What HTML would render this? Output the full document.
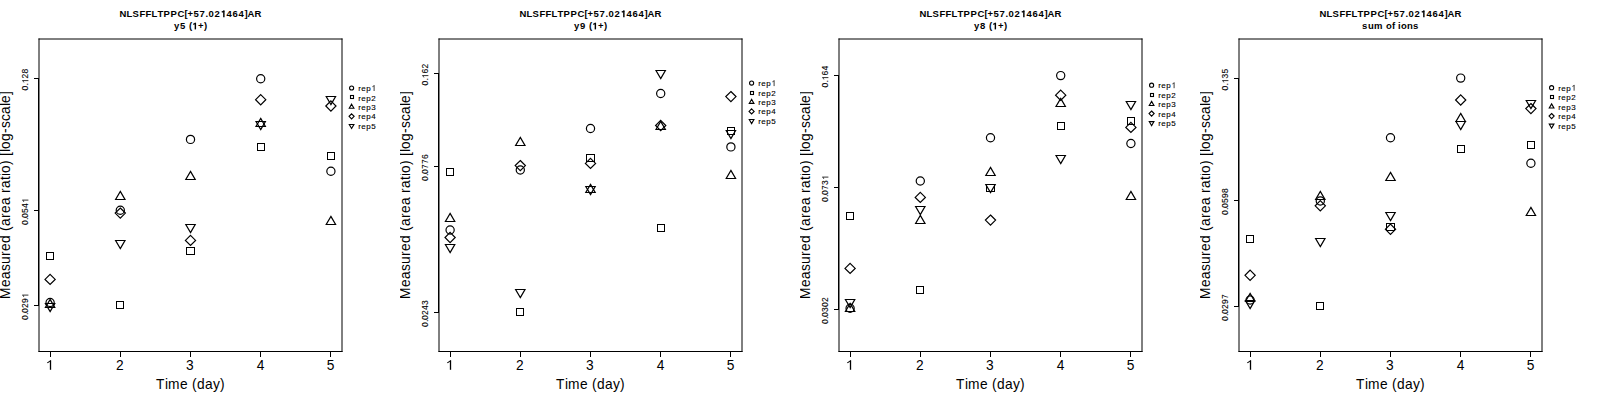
<!DOCTYPE html>
<html><head><meta charset="utf-8"><style>
html,body{margin:0;padding:0;background:#fff;}
svg{display:block;}
text{font-family:"Liberation Sans",sans-serif;fill:#000;}
.t{font-size:9.5px;font-weight:bold;}
.yt{font-size:8.5px;stroke:#000;stroke-width:0.1px;}
.xt{font-size:13.75px;text-anchor:middle;}
.xl{font-size:13.75px;}
.yl{font-size:13.75px;}
.lg{font-size:8px;stroke:#000;stroke-width:0.12px;}
.box{fill:none;stroke:#000;stroke-width:1;stroke-linecap:square;}
.ax{fill:none;stroke:#000;stroke-width:1;}
.pt circle,.pt rect,.pt path{fill:none;stroke:#000;}
</style></head><body>
<svg width="1600" height="400" viewBox="0 0 1600 400">
<defs><clipPath id="pc"><rect x="0" y="0" width="400" height="400"/></clipPath></defs>
<rect width="1600" height="400" fill="#fff"/>
<g transform="translate(0,0)" clip-path="url(#pc)">
<text class="t" x="119.50 126.50 132.50 139.50 145.50 151.50 157.50 163.50 170.50 177.50 184.50 187.50 193.50 199.50 205.50 208.50 214.50 220.50 226.50 232.50 238.50 244.50 247.50 254.50" y="17.2">NLSFFLTPPC[+57.02 464]AR</text><path d="M223.86,17.20V10.55" stroke="#000" stroke-width="1.43" fill="none"/><path d="M224.29,10.98L221.77,12.17" stroke="#000" stroke-width="1.21" fill="none"/>
<text class="t" x="174.00 180.00 186.00 189.00 192.00 198.00 204.00" y="29.4">y5 ( +)</text><path d="M195.36,29.40V22.75" stroke="#000" stroke-width="1.43" fill="none"/><path d="M195.79,23.18L193.27,24.37" stroke="#000" stroke-width="1.21" fill="none"/>
<path class="box" d="M39,39H342M342,39V351.5M342,351.5H39M39,351.5V39"/>
<path class="ax" d="M38.5,78.5V305.5"/>
<path class="ax" d="M34,78.5H39"/>
<g transform="translate(28.4,79.4) rotate(-90)"><text class="yt" x="-11.00 -6.00 -4.00 1.00 6.00" y="0">0. 28</text><path d="M-1.20,0.00V-5.95" stroke="#000" stroke-width="0.81" fill="none"/><path d="M-0.96,-5.71L-3.07,-4.50" stroke="#000" stroke-width="0.69" fill="none"/></g>
<path class="ax" d="M34,210.5H39"/>
<g transform="translate(28.4,211.4) rotate(-90)"><text class="yt" x="-13.50 -8.50 -6.50 -1.50 3.50 8.50" y="0">0.054 </text><path d="M11.30,0.00V-5.95" stroke="#000" stroke-width="0.81" fill="none"/><path d="M11.54,-5.71L9.43,-4.50" stroke="#000" stroke-width="0.69" fill="none"/></g>
<path class="ax" d="M34,305.5H39"/>
<g transform="translate(28.4,306.4) rotate(-90)"><text class="yt" x="-13.50 -8.50 -6.50 -1.50 3.50 8.50" y="0">0.029 </text><path d="M11.30,0.00V-5.95" stroke="#000" stroke-width="0.81" fill="none"/><path d="M11.54,-5.71L9.43,-4.50" stroke="#000" stroke-width="0.69" fill="none"/></g>
<path class="ax" d="M50.5,351.5H330.5"/>
<path class="ax" d="M50.5,351.5V357"/>
<path d="M50.5,369.8V360.4" stroke="#000" stroke-width="1.3" fill="none"/><path d="M50.9,360.6L47.3,362.9" stroke="#000" stroke-width="1.1" fill="none"/>
<path class="ax" d="M120.5,351.5V357"/>
<text class="xt" x="119.9" y="369.8">2</text>
<path class="ax" d="M190.5,351.5V357"/>
<text class="xt" x="189.9" y="369.8">3</text>
<path class="ax" d="M260.5,351.5V357"/>
<text class="xt" x="260.5" y="369.8">4</text>
<path class="ax" d="M330.5,351.5V357"/>
<text class="xt" x="330.5" y="369.8">5</text>
<text class="xl" x="156.00 165.00 168.00 180.00 188.00 192.00 197.00 205.00 213.00 220.00" y="389">Time (day)</text>
<g transform="translate(10.1,195) rotate(-90)"><text class="yl" x="-104.00 -92.00 -84.00 -76.00 -69.00 -61.00 -56.00 -48.00 -40.00 -36.00 -31.00 -23.00 -18.00 -10.00 -2.00 2.00 7.00 15.00 19.00 22.00 30.00 35.00 39.00 43.00 46.00 54.00 62.00 67.00 74.00 81.00 89.00 92.00 100.00" y="0">Measured (area ratio) [log-scale]</text></g>
<g class="pt">
<circle cx="50.10" cy="302.50" r="4.10" stroke-width="1.2"/>
<rect x="46.5" y="252.5" width="7.0" height="7.0" stroke-width="1.0"/>
<path d="M50.10,299.40L54.78,307.50L45.42,307.50Z" stroke-width="1.2"/>
<path d="M50.10,274.30L55.20,279.40L50.10,284.50L45.00,279.40Z" stroke-width="1.2"/>
<path d="M50.10,311.60L54.78,303.50L45.42,303.50Z" stroke-width="1.2"/>
<circle cx="120.30" cy="210.30" r="4.10" stroke-width="1.2"/>
<rect x="116.5" y="301.5" width="7.0" height="7.0" stroke-width="1.0"/>
<path d="M120.30,191.40L124.98,199.50L115.62,199.50Z" stroke-width="1.2"/>
<path d="M120.30,208.00L125.40,213.10L120.30,218.20L115.20,213.10Z" stroke-width="1.2"/>
<path d="M120.30,248.60L124.98,240.50L115.62,240.50Z" stroke-width="1.2"/>
<circle cx="190.50" cy="139.40" r="4.10" stroke-width="1.2"/>
<rect x="186.5" y="247.5" width="8.0" height="7.0" stroke-width="1.0"/>
<path d="M190.50,171.40L195.18,179.50L185.82,179.50Z" stroke-width="1.2"/>
<path d="M190.50,235.30L195.60,240.40L190.50,245.50L185.40,240.40Z" stroke-width="1.2"/>
<path d="M190.50,232.60L195.18,224.50L185.82,224.50Z" stroke-width="1.2"/>
<circle cx="260.70" cy="78.70" r="4.10" stroke-width="1.2"/>
<rect x="257.5" y="143.5" width="7.0" height="7.0" stroke-width="1.0"/>
<path d="M260.70,118.40L265.38,126.50L256.02,126.50Z" stroke-width="1.2"/>
<path d="M260.70,94.60L265.80,99.70L260.70,104.80L255.60,99.70Z" stroke-width="1.2"/>
<path d="M260.70,129.60L265.38,121.50L256.02,121.50Z" stroke-width="1.2"/>
<circle cx="330.90" cy="171.30" r="4.10" stroke-width="1.2"/>
<rect x="327.5" y="152.5" width="7.0" height="7.0" stroke-width="1.0"/>
<path d="M330.90,216.40L335.58,224.50L326.22,224.50Z" stroke-width="1.2"/>
<path d="M330.90,100.90L336.00,106.00L330.90,111.10L325.80,106.00Z" stroke-width="1.2"/>
<path d="M330.90,104.60L335.58,96.50L326.22,96.50Z" stroke-width="1.2"/>
</g>
<g class="pt">
<circle cx="351.60" cy="88.00" r="2.05" stroke-width="1.1"/>
<rect x="350.5" y="95.5" width="3.0" height="3.0" stroke-width="1.1"/>
<path d="M351.60,104.20L353.94,108.25L349.26,108.25Z" stroke-width="1.1"/>
<path d="M351.60,113.80L354.15,116.35L351.60,118.90L349.05,116.35Z" stroke-width="1.1"/>
<path d="M351.60,128.50L353.94,124.45L349.26,124.45Z" stroke-width="1.1"/>
</g>
<text class="lg" x="358.30 361.30 366.30 371.30" y="91.0">rep </text><path d="M374.10,91.00V85.40" stroke="#000" stroke-width="0.76" fill="none"/><path d="M374.33,85.63L372.34,86.76" stroke="#000" stroke-width="0.65" fill="none"/>
<text class="lg" x="358.30 361.30 366.30 371.30" y="100.5">rep2</text>
<text class="lg" x="358.30 361.30 366.30 371.30" y="109.9">rep3</text>
<text class="lg" x="358.30 361.30 366.30 371.30" y="119.3">rep4</text>
<text class="lg" x="358.30 361.30 366.30 371.30" y="128.8">rep5</text>
</g>
<g transform="translate(400,0)" clip-path="url(#pc)">
<text class="t" x="119.50 126.50 132.50 139.50 145.50 151.50 157.50 163.50 170.50 177.50 184.50 187.50 193.50 199.50 205.50 208.50 214.50 220.50 226.50 232.50 238.50 244.50 247.50 254.50" y="17.2">NLSFFLTPPC[+57.02 464]AR</text><path d="M223.86,17.20V10.55" stroke="#000" stroke-width="1.43" fill="none"/><path d="M224.29,10.98L221.77,12.17" stroke="#000" stroke-width="1.21" fill="none"/>
<text class="t" x="174.00 180.00 186.00 189.00 192.00 198.00 204.00" y="29.4">y9 ( +)</text><path d="M195.36,29.40V22.75" stroke="#000" stroke-width="1.43" fill="none"/><path d="M195.79,23.18L193.27,24.37" stroke="#000" stroke-width="1.21" fill="none"/>
<path class="box" d="M39,39H342M342,39V351.5M342,351.5H39M39,351.5V39"/>
<path class="ax" d="M38.5,73.5V312.5"/>
<path class="ax" d="M34,73.5H39"/>
<g transform="translate(28.4,74.4) rotate(-90)"><text class="yt" x="-11.00 -6.00 -4.00 1.00 6.00" y="0">0. 62</text><path d="M-1.20,0.00V-5.95" stroke="#000" stroke-width="0.81" fill="none"/><path d="M-0.96,-5.71L-3.07,-4.50" stroke="#000" stroke-width="0.69" fill="none"/></g>
<path class="ax" d="M34,166.5H39"/>
<g transform="translate(28.4,167.4) rotate(-90)"><text class="yt" x="-13.50 -8.50 -6.50 -1.50 3.50 8.50" y="0">0.0776</text></g>
<path class="ax" d="M34,312.5H39"/>
<g transform="translate(28.4,313.4) rotate(-90)"><text class="yt" x="-13.50 -8.50 -6.50 -1.50 3.50 8.50" y="0">0.0243</text></g>
<path class="ax" d="M50.5,351.5H330.5"/>
<path class="ax" d="M50.5,351.5V357"/>
<path d="M50.5,369.8V360.4" stroke="#000" stroke-width="1.3" fill="none"/><path d="M50.9,360.6L47.3,362.9" stroke="#000" stroke-width="1.1" fill="none"/>
<path class="ax" d="M120.5,351.5V357"/>
<text class="xt" x="119.9" y="369.8">2</text>
<path class="ax" d="M190.5,351.5V357"/>
<text class="xt" x="189.9" y="369.8">3</text>
<path class="ax" d="M260.5,351.5V357"/>
<text class="xt" x="260.5" y="369.8">4</text>
<path class="ax" d="M330.5,351.5V357"/>
<text class="xt" x="330.5" y="369.8">5</text>
<text class="xl" x="156.00 165.00 168.00 180.00 188.00 192.00 197.00 205.00 213.00 220.00" y="389">Time (day)</text>
<g transform="translate(10.1,195) rotate(-90)"><text class="yl" x="-104.00 -92.00 -84.00 -76.00 -69.00 -61.00 -56.00 -48.00 -40.00 -36.00 -31.00 -23.00 -18.00 -10.00 -2.00 2.00 7.00 15.00 19.00 22.00 30.00 35.00 39.00 43.00 46.00 54.00 62.00 67.00 74.00 81.00 89.00 92.00 100.00" y="0">Measured (area ratio) [log-scale]</text></g>
<g class="pt">
<circle cx="50.10" cy="230.00" r="4.10" stroke-width="1.2"/>
<rect x="46.5" y="168.5" width="7.0" height="7.0" stroke-width="1.0"/>
<path d="M50.10,213.40L54.78,221.50L45.42,221.50Z" stroke-width="1.2"/>
<path d="M50.10,232.40L55.20,237.50L50.10,242.60L45.00,237.50Z" stroke-width="1.2"/>
<path d="M50.10,252.60L54.78,244.50L45.42,244.50Z" stroke-width="1.2"/>
<circle cx="120.30" cy="170.00" r="4.10" stroke-width="1.2"/>
<rect x="116.5" y="308.5" width="7.0" height="7.0" stroke-width="1.0"/>
<path d="M120.30,137.40L124.98,145.50L115.62,145.50Z" stroke-width="1.2"/>
<path d="M120.30,160.50L125.40,165.60L120.30,170.70L115.20,165.60Z" stroke-width="1.2"/>
<path d="M120.30,297.60L124.98,289.50L115.62,289.50Z" stroke-width="1.2"/>
<circle cx="190.50" cy="128.50" r="4.10" stroke-width="1.2"/>
<rect x="186.5" y="154.5" width="8.0" height="7.0" stroke-width="1.0"/>
<path d="M190.50,184.40L195.18,192.50L185.82,192.50Z" stroke-width="1.2"/>
<path d="M190.50,158.30L195.60,163.40L190.50,168.50L185.40,163.40Z" stroke-width="1.2"/>
<path d="M190.50,194.60L195.18,186.50L185.82,186.50Z" stroke-width="1.2"/>
<circle cx="260.70" cy="93.50" r="4.10" stroke-width="1.2"/>
<rect x="257.5" y="224.5" width="7.0" height="7.0" stroke-width="1.0"/>
<path d="M260.70,121.40L265.38,129.50L256.02,129.50Z" stroke-width="1.2"/>
<path d="M260.70,120.40L265.80,125.50L260.70,130.60L255.60,125.50Z" stroke-width="1.2"/>
<path d="M260.70,78.60L265.38,70.50L256.02,70.50Z" stroke-width="1.2"/>
<circle cx="330.90" cy="146.90" r="4.10" stroke-width="1.2"/>
<rect x="327.5" y="127.5" width="7.0" height="7.0" stroke-width="1.0"/>
<path d="M330.90,170.40L335.58,178.50L326.22,178.50Z" stroke-width="1.2"/>
<path d="M330.90,91.50L336.00,96.60L330.90,101.70L325.80,96.60Z" stroke-width="1.2"/>
<path d="M330.90,138.60L335.58,130.50L326.22,130.50Z" stroke-width="1.2"/>
</g>
<g class="pt">
<circle cx="351.60" cy="83.10" r="2.05" stroke-width="1.1"/>
<rect x="350.5" y="91.5" width="3.0" height="3.0" stroke-width="1.1"/>
<path d="M351.60,99.30L353.94,103.35L349.26,103.35Z" stroke-width="1.1"/>
<path d="M351.60,108.90L354.15,111.45L351.60,114.00L349.05,111.45Z" stroke-width="1.1"/>
<path d="M351.60,123.60L353.94,119.55L349.26,119.55Z" stroke-width="1.1"/>
</g>
<text class="lg" x="358.30 361.30 366.30 371.30" y="86.1">rep </text><path d="M374.10,86.10V80.50" stroke="#000" stroke-width="0.76" fill="none"/><path d="M374.33,80.73L372.34,81.86" stroke="#000" stroke-width="0.65" fill="none"/>
<text class="lg" x="358.30 361.30 366.30 371.30" y="95.5">rep2</text>
<text class="lg" x="358.30 361.30 366.30 371.30" y="105.0">rep3</text>
<text class="lg" x="358.30 361.30 366.30 371.30" y="114.4">rep4</text>
<text class="lg" x="358.30 361.30 366.30 371.30" y="123.9">rep5</text>
</g>
<g transform="translate(800,0)" clip-path="url(#pc)">
<text class="t" x="119.50 126.50 132.50 139.50 145.50 151.50 157.50 163.50 170.50 177.50 184.50 187.50 193.50 199.50 205.50 208.50 214.50 220.50 226.50 232.50 238.50 244.50 247.50 254.50" y="17.2">NLSFFLTPPC[+57.02 464]AR</text><path d="M223.86,17.20V10.55" stroke="#000" stroke-width="1.43" fill="none"/><path d="M224.29,10.98L221.77,12.17" stroke="#000" stroke-width="1.21" fill="none"/>
<text class="t" x="174.00 180.00 186.00 189.00 192.00 198.00 204.00" y="29.4">y8 ( +)</text><path d="M195.36,29.40V22.75" stroke="#000" stroke-width="1.43" fill="none"/><path d="M195.79,23.18L193.27,24.37" stroke="#000" stroke-width="1.21" fill="none"/>
<path class="box" d="M39,39H342M342,39V351.5M342,351.5H39M39,351.5V39"/>
<path class="ax" d="M38.5,75.5V309.5"/>
<path class="ax" d="M34,75.5H39"/>
<g transform="translate(28.4,76.4) rotate(-90)"><text class="yt" x="-11.00 -6.00 -4.00 1.00 6.00" y="0">0. 64</text><path d="M-1.20,0.00V-5.95" stroke="#000" stroke-width="0.81" fill="none"/><path d="M-0.96,-5.71L-3.07,-4.50" stroke="#000" stroke-width="0.69" fill="none"/></g>
<path class="ax" d="M34,187.5H39"/>
<g transform="translate(28.4,188.4) rotate(-90)"><text class="yt" x="-13.50 -8.50 -6.50 -1.50 3.50 8.50" y="0">0.073 </text><path d="M11.30,0.00V-5.95" stroke="#000" stroke-width="0.81" fill="none"/><path d="M11.54,-5.71L9.43,-4.50" stroke="#000" stroke-width="0.69" fill="none"/></g>
<path class="ax" d="M34,309.5H39"/>
<g transform="translate(28.4,310.4) rotate(-90)"><text class="yt" x="-13.50 -8.50 -6.50 -1.50 3.50 8.50" y="0">0.0302</text></g>
<path class="ax" d="M50.5,351.5H330.5"/>
<path class="ax" d="M50.5,351.5V357"/>
<path d="M50.5,369.8V360.4" stroke="#000" stroke-width="1.3" fill="none"/><path d="M50.9,360.6L47.3,362.9" stroke="#000" stroke-width="1.1" fill="none"/>
<path class="ax" d="M120.5,351.5V357"/>
<text class="xt" x="119.9" y="369.8">2</text>
<path class="ax" d="M190.5,351.5V357"/>
<text class="xt" x="189.9" y="369.8">3</text>
<path class="ax" d="M260.5,351.5V357"/>
<text class="xt" x="260.5" y="369.8">4</text>
<path class="ax" d="M330.5,351.5V357"/>
<text class="xt" x="330.5" y="369.8">5</text>
<text class="xl" x="156.00 165.00 168.00 180.00 188.00 192.00 197.00 205.00 213.00 220.00" y="389">Time (day)</text>
<g transform="translate(10.1,195) rotate(-90)"><text class="yl" x="-104.00 -92.00 -84.00 -76.00 -69.00 -61.00 -56.00 -48.00 -40.00 -36.00 -31.00 -23.00 -18.00 -10.00 -2.00 2.00 7.00 15.00 19.00 22.00 30.00 35.00 39.00 43.00 46.00 54.00 62.00 67.00 74.00 81.00 89.00 92.00 100.00" y="0">Measured (area ratio) [log-scale]</text></g>
<g class="pt">
<circle cx="50.10" cy="308.20" r="4.10" stroke-width="1.2"/>
<rect x="46.5" y="212.5" width="7.0" height="7.0" stroke-width="1.0"/>
<path d="M50.10,303.40L54.78,311.50L45.42,311.50Z" stroke-width="1.2"/>
<path d="M50.10,263.30L55.20,268.40L50.10,273.50L45.00,268.40Z" stroke-width="1.2"/>
<path d="M50.10,307.60L54.78,299.50L45.42,299.50Z" stroke-width="1.2"/>
<circle cx="120.30" cy="181.00" r="4.10" stroke-width="1.2"/>
<rect x="116.5" y="286.5" width="7.0" height="7.0" stroke-width="1.0"/>
<path d="M120.30,215.40L124.98,223.50L115.62,223.50Z" stroke-width="1.2"/>
<path d="M120.30,192.30L125.40,197.40L120.30,202.50L115.20,197.40Z" stroke-width="1.2"/>
<path d="M120.30,214.60L124.98,206.50L115.62,206.50Z" stroke-width="1.2"/>
<circle cx="190.50" cy="137.80" r="4.10" stroke-width="1.2"/>
<rect x="186.5" y="184.5" width="8.0" height="7.0" stroke-width="1.0"/>
<path d="M190.50,167.40L195.18,175.50L185.82,175.50Z" stroke-width="1.2"/>
<path d="M190.50,215.00L195.60,220.10L190.50,225.20L185.40,220.10Z" stroke-width="1.2"/>
<path d="M190.50,192.60L195.18,184.50L185.82,184.50Z" stroke-width="1.2"/>
<circle cx="260.70" cy="75.60" r="4.10" stroke-width="1.2"/>
<rect x="257.5" y="122.5" width="7.0" height="7.0" stroke-width="1.0"/>
<path d="M260.70,98.40L265.38,106.50L256.02,106.50Z" stroke-width="1.2"/>
<path d="M260.70,90.10L265.80,95.20L260.70,100.30L255.60,95.20Z" stroke-width="1.2"/>
<path d="M260.70,163.60L265.38,155.50L256.02,155.50Z" stroke-width="1.2"/>
<circle cx="330.90" cy="143.50" r="4.10" stroke-width="1.2"/>
<rect x="327.5" y="117.5" width="7.0" height="7.0" stroke-width="1.0"/>
<path d="M330.90,191.40L335.58,199.50L326.22,199.50Z" stroke-width="1.2"/>
<path d="M330.90,122.30L336.00,127.40L330.90,132.50L325.80,127.40Z" stroke-width="1.2"/>
<path d="M330.90,109.60L335.58,101.50L326.22,101.50Z" stroke-width="1.2"/>
</g>
<g class="pt">
<circle cx="351.60" cy="85.20" r="2.05" stroke-width="1.1"/>
<rect x="350.5" y="93.5" width="3.0" height="3.0" stroke-width="1.1"/>
<path d="M351.60,101.40L353.94,105.45L349.26,105.45Z" stroke-width="1.1"/>
<path d="M351.60,111.00L354.15,113.55L351.60,116.10L349.05,113.55Z" stroke-width="1.1"/>
<path d="M351.60,125.70L353.94,121.65L349.26,121.65Z" stroke-width="1.1"/>
</g>
<text class="lg" x="358.30 361.30 366.30 371.30" y="88.2">rep </text><path d="M374.10,88.20V82.60" stroke="#000" stroke-width="0.76" fill="none"/><path d="M374.33,82.83L372.34,83.96" stroke="#000" stroke-width="0.65" fill="none"/>
<text class="lg" x="358.30 361.30 366.30 371.30" y="97.7">rep2</text>
<text class="lg" x="358.30 361.30 366.30 371.30" y="107.1">rep3</text>
<text class="lg" x="358.30 361.30 366.30 371.30" y="116.5">rep4</text>
<text class="lg" x="358.30 361.30 366.30 371.30" y="126.0">rep5</text>
</g>
<g transform="translate(1200,0)" clip-path="url(#pc)">
<text class="t" x="119.50 126.50 132.50 139.50 145.50 151.50 157.50 163.50 170.50 177.50 184.50 187.50 193.50 199.50 205.50 208.50 214.50 220.50 226.50 232.50 238.50 244.50 247.50 254.50" y="17.2">NLSFFLTPPC[+57.02 464]AR</text><path d="M223.86,17.20V10.55" stroke="#000" stroke-width="1.43" fill="none"/><path d="M224.29,10.98L221.77,12.17" stroke="#000" stroke-width="1.21" fill="none"/>
<text class="t" x="162.00 168.00 174.00 183.00 186.00 192.00 195.00 198.00 201.00 207.00 213.00" y="29.4">sum of ions</text>
<path class="box" d="M39,39H342M342,39V351.5M342,351.5H39M39,351.5V39"/>
<path class="ax" d="M38.5,78.5V306.5"/>
<path class="ax" d="M34,78.5H39"/>
<g transform="translate(28.4,79.4) rotate(-90)"><text class="yt" x="-11.00 -6.00 -4.00 1.00 6.00" y="0">0. 35</text><path d="M-1.20,0.00V-5.95" stroke="#000" stroke-width="0.81" fill="none"/><path d="M-0.96,-5.71L-3.07,-4.50" stroke="#000" stroke-width="0.69" fill="none"/></g>
<path class="ax" d="M34,200.5H39"/>
<g transform="translate(28.4,201.4) rotate(-90)"><text class="yt" x="-13.50 -8.50 -6.50 -1.50 3.50 8.50" y="0">0.0598</text></g>
<path class="ax" d="M34,306.5H39"/>
<g transform="translate(28.4,307.4) rotate(-90)"><text class="yt" x="-13.50 -8.50 -6.50 -1.50 3.50 8.50" y="0">0.0297</text></g>
<path class="ax" d="M50.5,351.5H330.5"/>
<path class="ax" d="M50.5,351.5V357"/>
<path d="M50.5,369.8V360.4" stroke="#000" stroke-width="1.3" fill="none"/><path d="M50.9,360.6L47.3,362.9" stroke="#000" stroke-width="1.1" fill="none"/>
<path class="ax" d="M120.5,351.5V357"/>
<text class="xt" x="119.9" y="369.8">2</text>
<path class="ax" d="M190.5,351.5V357"/>
<text class="xt" x="189.9" y="369.8">3</text>
<path class="ax" d="M260.5,351.5V357"/>
<text class="xt" x="260.5" y="369.8">4</text>
<path class="ax" d="M330.5,351.5V357"/>
<text class="xt" x="330.5" y="369.8">5</text>
<text class="xl" x="156.00 165.00 168.00 180.00 188.00 192.00 197.00 205.00 213.00 220.00" y="389">Time (day)</text>
<g transform="translate(10.1,195) rotate(-90)"><text class="yl" x="-104.00 -92.00 -84.00 -76.00 -69.00 -61.00 -56.00 -48.00 -40.00 -36.00 -31.00 -23.00 -18.00 -10.00 -2.00 2.00 7.00 15.00 19.00 22.00 30.00 35.00 39.00 43.00 46.00 54.00 62.00 67.00 74.00 81.00 89.00 92.00 100.00" y="0">Measured (area ratio) [log-scale]</text></g>
<g class="pt">
<circle cx="50.10" cy="300.00" r="4.10" stroke-width="1.2"/>
<rect x="46.5" y="235.5" width="7.0" height="7.0" stroke-width="1.0"/>
<path d="M50.10,293.40L54.78,301.50L45.42,301.50Z" stroke-width="1.2"/>
<path d="M50.10,270.20L55.20,275.30L50.10,280.40L45.00,275.30Z" stroke-width="1.2"/>
<path d="M50.10,308.60L54.78,300.50L45.42,300.50Z" stroke-width="1.2"/>
<circle cx="120.30" cy="201.00" r="4.10" stroke-width="1.2"/>
<rect x="116.5" y="302.5" width="7.0" height="7.0" stroke-width="1.0"/>
<path d="M120.30,191.40L124.98,199.50L115.62,199.50Z" stroke-width="1.2"/>
<path d="M120.30,200.70L125.40,205.80L120.30,210.90L115.20,205.80Z" stroke-width="1.2"/>
<path d="M120.30,246.60L124.98,238.50L115.62,238.50Z" stroke-width="1.2"/>
<circle cx="190.50" cy="137.80" r="4.10" stroke-width="1.2"/>
<rect x="186.5" y="223.5" width="8.0" height="7.0" stroke-width="1.0"/>
<path d="M190.50,172.40L195.18,180.50L185.82,180.50Z" stroke-width="1.2"/>
<path d="M190.50,224.20L195.60,229.30L190.50,234.40L185.40,229.30Z" stroke-width="1.2"/>
<path d="M190.50,220.60L195.18,212.50L185.82,212.50Z" stroke-width="1.2"/>
<circle cx="260.70" cy="78.10" r="4.10" stroke-width="1.2"/>
<rect x="257.5" y="145.5" width="7.0" height="7.0" stroke-width="1.0"/>
<path d="M260.70,113.40L265.38,121.50L256.02,121.50Z" stroke-width="1.2"/>
<path d="M260.70,94.90L265.80,100.00L260.70,105.10L255.60,100.00Z" stroke-width="1.2"/>
<path d="M260.70,129.60L265.38,121.50L256.02,121.50Z" stroke-width="1.2"/>
<circle cx="330.90" cy="163.20" r="4.10" stroke-width="1.2"/>
<rect x="327.5" y="141.5" width="7.0" height="7.0" stroke-width="1.0"/>
<path d="M330.90,207.40L335.58,215.50L326.22,215.50Z" stroke-width="1.2"/>
<path d="M330.90,103.50L336.00,108.60L330.90,113.70L325.80,108.60Z" stroke-width="1.2"/>
<path d="M330.90,108.60L335.58,100.50L326.22,100.50Z" stroke-width="1.2"/>
</g>
<g class="pt">
<circle cx="351.60" cy="87.70" r="2.05" stroke-width="1.1"/>
<rect x="350.5" y="95.5" width="3.0" height="3.0" stroke-width="1.1"/>
<path d="M351.60,103.90L353.94,107.95L349.26,107.95Z" stroke-width="1.1"/>
<path d="M351.60,113.50L354.15,116.05L351.60,118.60L349.05,116.05Z" stroke-width="1.1"/>
<path d="M351.60,128.20L353.94,124.15L349.26,124.15Z" stroke-width="1.1"/>
</g>
<text class="lg" x="358.30 361.30 366.30 371.30" y="90.7">rep </text><path d="M374.10,90.70V85.10" stroke="#000" stroke-width="0.76" fill="none"/><path d="M374.33,85.33L372.34,86.46" stroke="#000" stroke-width="0.65" fill="none"/>
<text class="lg" x="358.30 361.30 366.30 371.30" y="100.2">rep2</text>
<text class="lg" x="358.30 361.30 366.30 371.30" y="109.6">rep3</text>
<text class="lg" x="358.30 361.30 366.30 371.30" y="119.0">rep4</text>
<text class="lg" x="358.30 361.30 366.30 371.30" y="128.5">rep5</text>
</g>
</svg>
</body></html>
